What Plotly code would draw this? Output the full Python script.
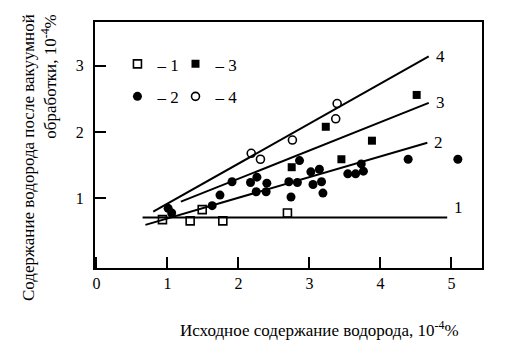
import plotly.graph_objects as go

# Series 1 (open squares)
s1_x = [0.93, 1.32, 1.49, 1.78, 2.69]
s1_y = [0.68, 0.66, 0.83, 0.66, 0.78]
# Series 2 (filled circles)
s2_x = [1.01, 1.06, 1.63, 1.74, 1.91, 2.17, 2.26, 2.40, 2.25, 2.39, 2.71, 2.83, 2.86, 2.74,
        3.02, 3.14, 3.05, 3.17, 3.19, 3.54, 3.65, 3.76, 3.73, 4.39, 5.09]
s2_y = [0.85, 0.78, 0.89, 1.05, 1.25, 1.24, 1.32, 1.23, 1.10, 1.10, 1.25, 1.24, 1.57, 1.02,
        1.40, 1.44, 1.21, 1.25, 1.08, 1.37, 1.37, 1.41, 1.52, 1.59, 1.59]
# Series 3 (filled squares)
s3_x = [2.75, 3.23, 3.45, 3.88, 4.51]
s3_y = [1.47, 2.08, 1.59, 1.87, 2.56]
# Series 4 (open circles)
s4_x = [2.18, 2.31, 2.76, 3.37, 3.39]
s4_y = [1.68, 1.59, 1.88, 2.20, 2.43]

# Fitted lines (end points)
line1_x = [0.65, 4.94]
line1_y = [0.71, 0.71]
line2_x = [0.69, 4.66]
line2_y = [0.60, 1.84]
line3_x = [1.19, 4.68]
line3_y = [0.95, 2.44]
line4_x = [0.80, 4.68]
line4_y = [0.80, 3.14]

series_names = ["– 1", "– 2", "– 3", "– 4"]
x_ticks = [0, 1, 2, 3, 4, 5]
y_ticks = [1, 2, 3]

FONT = "Liberation Serif"
fig = go.Figure()

for lx, ly in [(line1_x, line1_y), (line2_x, line2_y), (line3_x, line3_y), (line4_x, line4_y)]:
    fig.add_trace(go.Scatter(x=lx, y=ly, mode="lines", line=dict(color="black", width=2),
                             showlegend=False, hoverinfo="skip"))

fig.add_trace(go.Scatter(x=s1_x, y=s1_y, mode="markers", name=series_names[0],
                         marker=dict(symbol="square-open", size=8, color="black", line=dict(width=1.6, color="black")),
                         legend="legend"))
fig.add_trace(go.Scatter(x=s2_x, y=s2_y, mode="markers", name=series_names[1],
                         marker=dict(symbol="circle", size=9, color="black"),
                         legend="legend2"))
fig.add_trace(go.Scatter(x=s3_x, y=s3_y, mode="markers", name=series_names[2],
                         marker=dict(symbol="square", size=8, color="black"),
                         legend="legend3"))
fig.add_trace(go.Scatter(x=s4_x, y=s4_y, mode="markers", name=series_names[3],
                         marker=dict(symbol="circle-open", size=8, color="black", line=dict(width=1.6, color="black")),
                         legend="legend4"))

annotations = []
# line labels
for lab, lx, ly, dy in [("1", line1_x, line1_y, 0.15), ("2", line2_x, line2_y, 0.0),
                        ("3", line3_x, line3_y, 0.0), ("4", line4_x, line4_y, 0.0)]:
    annotations.append(dict(x=lx[-1] + 0.07, y=ly[-1] + dy, xref="x", yref="y", text=lab,
                            showarrow=False, xanchor="left", yanchor="middle",
                            font=dict(family=FONT, size=17, color="black")))

# axis titles
annotations.append(dict(x=(319 - 95) / 387, y=(268 - 329) / 246, xref="paper", yref="paper",
                        text="Исходное содержание водорода, 10<sup>-4</sup>%", showarrow=False,
                        xanchor="center", yanchor="middle",
                        font=dict(family=FONT, size=17, color="black")))
annotations.append(dict(x=(39 - 95) / 387, y=(268 - 158) / 246, xref="paper", yref="paper",
                        text="Содержание водорода после вакуумной<br>обработки, 10<sup>-4</sup>%",
                        showarrow=False, textangle=-90, align="right",
                        xanchor="center", yanchor="middle",
                        font=dict(family=FONT, size=17, color="black")))


def leg(x, y):
    return dict(orientation="h", x=x, y=y, xanchor="left", yanchor="middle",
                bgcolor="rgba(0,0,0,0)", borderwidth=0,
                font=dict(family=FONT, size=17, color="black"))


# The page body has an 8px default margin, so the figure is sized/offset to compensate.
# Plot area: x 95..482, y 22..268 in the 523x361 window.
fig.update_layout(
    width=515, height=353,
    margin=dict(l=87, r=41, t=14, b=93),
    paper_bgcolor="white", plot_bgcolor="white",
    font=dict(family=FONT, size=16, color="black"),
    annotations=annotations,
    legend=leg(0.058, 0.828),
    legend3=leg(0.208, 0.828),
    legend2=leg(0.058, 0.696),
    legend4=leg(0.208, 0.696),
)
fig.update_xaxes(range=[-0.02, 5.43], tickvals=x_ticks, ticks="inside", ticklen=11, tickwidth=2,
                 tickcolor="black", showline=True, linewidth=2, linecolor="black", mirror=True,
                 showgrid=False, zeroline=False, tickfont=dict(family=FONT, size=16))
fig.update_yaxes(range=[-0.05, 3.66], tickvals=y_ticks, ticks="inside", ticklen=11, tickwidth=2,
                 tickcolor="black", showline=True, linewidth=2, linecolor="black", mirror=True,
                 showgrid=False, zeroline=False, tickfont=dict(family=FONT, size=16),
                 ticklabelstandoff=6)

fig.write_html("out.html")
